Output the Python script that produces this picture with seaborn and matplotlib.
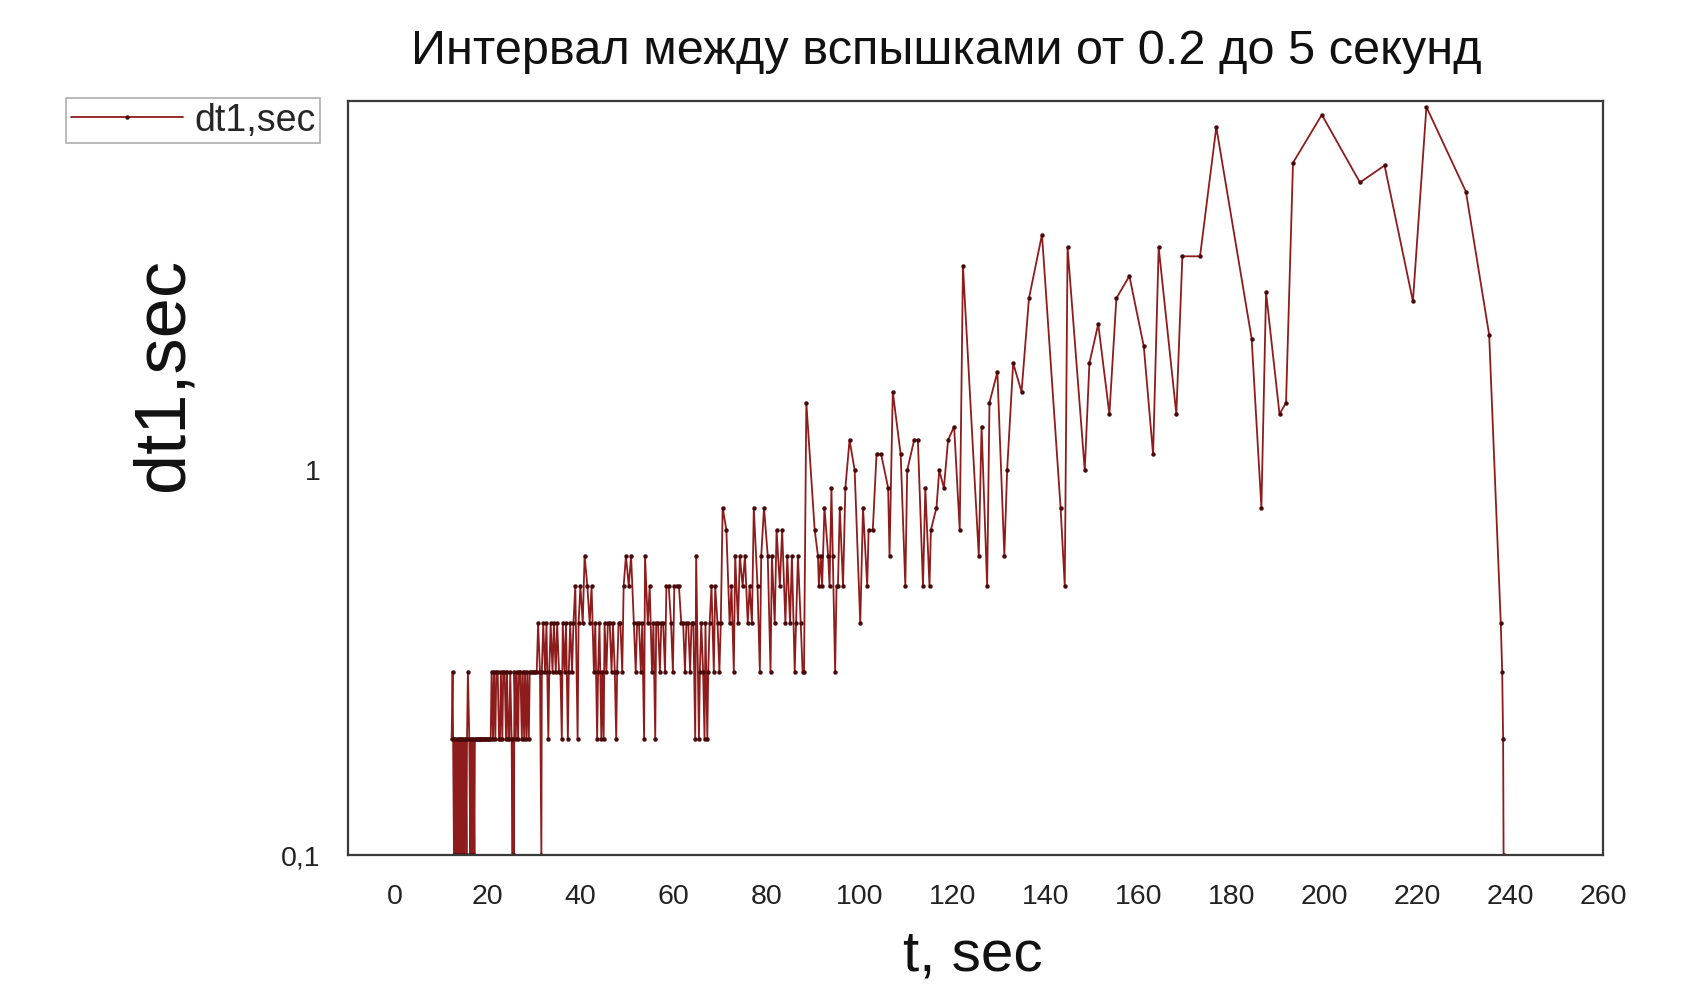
import matplotlib
matplotlib.use("Agg")
import matplotlib.pyplot as plt
import numpy as np
import pandas as pd
import seaborn as sns
from matplotlib.ticker import FixedLocator, FixedFormatter, NullLocator
from matplotlib.lines import Line2D

# Flash times (s) and the interval to the next flash (s)
t_early = [12.3, 12.5, 12.8, 12.9, 13.1, 13.3, 13.4, 13.6, 13.7, 13.9, 14.0, 14.2, 14.4, 14.5,
           14.7, 14.8, 15.0, 15.1, 15.3, 15.5, 15.6, 15.8, 16.1, 16.3, 16.4, 16.6, 16.7, 16.9,
           17.0, 17.2, 17.3, 17.5, 17.7, 17.9, 18.1, 18.3, 18.5, 18.7, 18.9, 19.1, 19.3, 19.5,
           19.7, 19.9, 20.1, 20.3, 20.5, 20.7, 20.9, 21.2, 21.4, 21.7, 21.9, 22.2, 22.5, 22.7,
           22.9, 23.2, 23.4, 23.7, 24.0, 24.2, 24.5, 24.7, 24.9, 25.2, 25.4, 25.5, 25.7, 25.8,
           26.1, 26.3, 26.6, 26.8, 27.1, 27.4, 27.6, 27.9, 28.1, 28.4, 28.6, 28.9, 29.1, 29.4,
           29.7, 30.0, 30.3, 30.6, 30.9, 31.3, 31.6, 31.7]
dt_early = [0.2, 0.3, 0.1, 0.2, 0.2, 0.1, 0.2, 0.1, 0.2, 0.1, 0.2, 0.2, 0.1, 0.2,
            0.1, 0.2, 0.1, 0.2, 0.2, 0.1, 0.2, 0.3, 0.2, 0.1, 0.2, 0.1, 0.2, 0.1,
            0.2, 0.1, 0.2, 0.2, 0.2, 0.2, 0.2, 0.2, 0.2, 0.2, 0.2, 0.2, 0.2, 0.2,
            0.2, 0.2, 0.2, 0.2, 0.2, 0.2, 0.3, 0.2, 0.3, 0.2, 0.3, 0.3, 0.2, 0.2,
            0.3, 0.2, 0.3, 0.3, 0.2, 0.3, 0.2, 0.2, 0.3, 0.2, 0.1, 0.2, 0.1, 0.3,
            0.2, 0.3, 0.2, 0.3, 0.3, 0.2, 0.3, 0.2, 0.3, 0.2, 0.3, 0.2, 0.3, 0.3,
            0.3, 0.3, 0.3, 0.3, 0.4, 0.3, 0.1, 0.3]

t_mid = [32.0, 32.4, 32.7, 33.1, 33.3, 33.6, 34.0, 34.3, 34.7, 35.0, 35.4, 35.7, 36.0, 36.2,
         36.6, 36.9, 37.3, 37.5, 37.8, 38.2, 38.5, 38.9, 39.4, 39.6, 40.0, 40.5, 40.9, 41.5,
         42.0, 42.4, 42.9, 43.2, 43.6, 43.8, 44.1, 44.5, 44.7, 45.0, 45.2, 45.6, 45.9, 46.3,
         46.7, 47.0, 47.4, 47.7, 47.9, 48.2, 48.6, 49.0, 49.3, 49.8, 50.4, 50.9, 51.5, 51.9,
         52.2, 52.6, 53.0, 53.3, 53.7, 53.9, 54.5, 54.9, 55.4, 55.7, 56.1, 56.3, 56.7, 57.1,
         57.4, 57.8, 58.2, 58.5, 59.0, 59.5, 59.9, 60.2, 60.7, 61.2, 61.7, 62.1, 62.5, 62.8,
         63.2, 63.6, 63.9, 64.3, 64.7, 64.9, 65.5, 65.7, 66.0, 66.4, 66.7, 66.9, 67.3, 67.5,
         67.8, 68.2, 68.7, 69.0, 69.5, 69.9, 70.2]
dt_mid = [0.4, 0.3, 0.4, 0.2, 0.3, 0.4, 0.3, 0.4, 0.3, 0.4, 0.3, 0.3, 0.2, 0.4,
          0.3, 0.4, 0.2, 0.3, 0.4, 0.3, 0.4, 0.5, 0.2, 0.4, 0.5, 0.4, 0.6, 0.5,
          0.4, 0.5, 0.3, 0.4, 0.2, 0.3, 0.4, 0.2, 0.3, 0.2, 0.4, 0.3, 0.4, 0.4,
          0.3, 0.4, 0.3, 0.2, 0.3, 0.4, 0.4, 0.3, 0.5, 0.6, 0.5, 0.6, 0.4, 0.3,
          0.4, 0.4, 0.3, 0.4, 0.2, 0.6, 0.4, 0.5, 0.3, 0.4, 0.2, 0.4, 0.4, 0.3,
          0.4, 0.4, 0.3, 0.5, 0.5, 0.4, 0.3, 0.5, 0.5, 0.5, 0.4, 0.4, 0.3, 0.4,
          0.4, 0.3, 0.4, 0.4, 0.2, 0.6, 0.2, 0.3, 0.4, 0.3, 0.2, 0.4, 0.2, 0.3,
          0.4, 0.5, 0.3, 0.5, 0.4, 0.3, 0.4]

t_late = [70.6, 71.4, 72.1, 72.5, 73.0, 73.3, 73.9, 74.3, 74.9, 75.4, 76.0, 76.4, 76.9, 77.3,
          78.1, 78.6, 78.9, 79.5, 80.3, 80.9, 81.2, 81.8, 82.2, 82.9, 83.4, 84.1, 84.5, 85.1,
          85.5, 86.1, 86.4, 86.8, 87.4, 87.8, 88.1, 88.6, 90.4, 91.1, 91.3, 91.7, 92.0, 92.5,
          93.3, 93.6, 94.0, 94.3, 94.8, 95.1, 95.4, 95.8, 96.5, 97.0, 97.9, 99.0, 100.2, 100.8,
          101.7, 102.0, 102.9, 103.7, 104.7, 106.2, 106.5, 107.2, 108.9, 109.9, 110.3, 111.8,
          112.6, 113.7, 114.2, 115.1, 115.4, 116.6, 117.2, 118.2, 119.1, 120.4, 121.6]
dt_late = [0.8, 0.7, 0.4, 0.5, 0.3, 0.6, 0.4, 0.6, 0.5, 0.6, 0.4, 0.5, 0.4, 0.8,
           0.5, 0.3, 0.6, 0.8, 0.6, 0.3, 0.6, 0.4, 0.7, 0.5, 0.7, 0.4, 0.6, 0.4,
           0.6, 0.3, 0.4, 0.6, 0.4, 0.3, 0.3, 1.5, 0.7, 0.6, 0.5, 0.6, 0.5, 0.8,
           0.6, 0.5, 0.9, 0.6, 0.3, 0.5, 0.5, 0.8, 0.5, 0.9, 1.2, 1.0, 0.4, 0.8,
           0.5, 0.7, 0.7, 1.1, 1.1, 0.9, 0.6, 1.6, 1.1, 0.5, 1.0, 1.2,
           1.2, 0.5, 0.9, 0.5, 0.7, 0.8, 1.0, 0.9, 1.2, 1.3, 0.7]

t_tail = [122.3, 125.7, 126.3, 127.5, 128.0, 129.7, 131.2, 131.8, 133.1, 134.9, 136.5, 139.3,
          143.3, 144.2, 144.8, 148.5, 149.5, 151.4, 153.8, 155.3, 158.1, 161.2, 163.2, 164.4,
          168.2, 169.5, 173.3, 176.8, 184.4, 186.5, 187.5, 190.4, 191.8, 193.3, 199.5, 207.7,
          213.0, 219.1, 222.0, 230.5, 235.5, 238.0, 238.3, 238.5, 238.6]
dt_tail = [3.4, 0.6, 1.3, 0.5, 1.5, 1.8, 0.6, 1.0, 1.9, 1.6, 2.8, 4.1,
           0.8, 0.5, 3.8, 1.0, 1.9, 2.4, 1.4, 2.8, 3.2, 2.1, 1.1, 3.8,
           1.4, 3.6, 3.6, 7.8, 2.2, 0.8, 2.9, 1.4, 1.5, 6.3, 8.4, 5.6,
           6.2, 2.75, 8.8, 5.3, 2.25, 0.4, 0.3, 0.2, 0.1]

x_ticks = list(range(0, 261, 20))
y_ticks = [0.1, 1]
y_tick_labels = ["0,1", "1"]
title = "Интервал между вспышками от 0.2 до 5 секунд"
series_name = "dt1,sec"

df = pd.DataFrame({
    "t": t_early + t_mid + t_late + t_tail,
    series_name: dt_early + dt_mid + dt_late + dt_tail,
})

sns.set_theme(style="white")
plt.rcParams["font.family"] = ["Liberation Sans", "DejaVu Sans"]

LINE = "#8e1c1c"
DOT = "#4a0808"

fig = plt.figure(figsize=(16.86, 9.84), dpi=100)
ax = fig.add_axes([0.2064, 0.131, 0.7444, 0.766])
ax.set_yscale("log")

sns.lineplot(data=df, x="t", y=series_name, ax=ax, estimator=None, sort=False,
             color=LINE, linewidth=1.3, marker="o", markersize=3.2,
             markeredgewidth=0, markerfacecolor=DOT, legend=False)

ax.set_xlim(-10, 260)
ax.set_ylim(0.1, 9.1)
ax.xaxis.set_major_locator(FixedLocator(x_ticks))
ax.yaxis.set_major_locator(FixedLocator(y_ticks))
ax.yaxis.set_major_formatter(FixedFormatter(y_tick_labels))
ax.yaxis.set_minor_locator(NullLocator())
ax.tick_params(axis="both", length=0, labelsize=20.5, colors="#222222")
ax.tick_params(axis="x", pad=21)
ax.tick_params(axis="y", pad=20)
ax.set_xlabel("")
ax.set_ylabel("")
ax.grid(False)
for sp in ax.spines.values():
    sp.set_color("#3a3a3a")
    sp.set_linewidth(1.6)

fig.text(946 / 1686, 1 - 52 / 984, title, ha="center", va="center",
         fontsize=35, color="#111111")
fig.text(973 / 1686, 1 - 955 / 984, "t, sec", ha="center", va="center",
         fontsize=42, color="#111111")
fig.text(164 / 1686, 1 - 374 / 984, series_name, ha="center", va="center",
         rotation=90, fontsize=52, color="#111111")

handle = Line2D([], [], color=LINE, linewidth=1.3, marker="o", markersize=3.2,
                markeredgewidth=0, markerfacecolor=DOT)
leg = fig.legend([handle], [series_name], loc="upper left",
                 bbox_to_anchor=(66 / 1686, 1 - 98 / 984), fontsize=27,
                 handlelength=3.0, handletextpad=0.3, borderpad=0.12,
                 borderaxespad=0, fancybox=False, frameon=True)
leg.get_frame().set_edgecolor("#9a9a9a")
leg.get_frame().set_linewidth(1.2)

fig.savefig("out.png", dpi=100)
